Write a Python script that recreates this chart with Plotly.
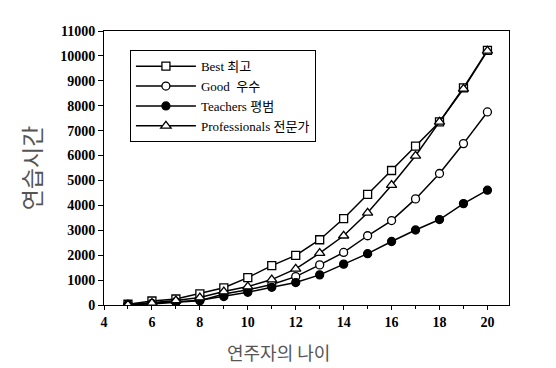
import plotly.graph_objects as go

ages = list(range(5, 21))
best = [30, 160, 240, 450, 690, 1100, 1580, 1990, 2620, 3470, 4440, 5400, 6380, 7350, 8720, 10220]
good = [20, 40, 110, 170, 440, 610, 820, 1140, 1610, 2110, 2780, 3390, 4260, 5280, 6480, 7750]
teachers = [10, 60, 130, 190, 340, 510, 710, 900, 1210, 1640, 2060, 2550, 3010, 3430, 4070, 4610]
prof = [10, 80, 180, 300, 540, 740, 1020, 1450, 2080, 2780, 3700, 4810, 5990, 7350, 8680, 10200]

names = ["Best 최고", "Good  우수", "Teachers 평범", "Professionals 전문가"]
series = [best, good, teachers, prof]
symbols = ["square", "circle", "circle", "triangle-up"]
fills = ["white", "white", "black", "white"]

fig = go.Figure()
for nm, ys, sym, fc in zip(names, series, symbols, fills):
    fig.add_trace(go.Scatter(
        x=ages, y=ys, name=nm, mode="lines+markers",
        line=dict(color="black", width=1.5),
        marker=dict(symbol=sym, size=8 if sym != "triangle-up" else 9, color=fc,
                    line=dict(color="black", width=1.3)),
    ))

serif = "Liberation Serif, Noto Sans CJK KR"
fig.update_layout(
    width=556, height=368,
    margin=dict(l=104, r=47, t=31, b=63),
    paper_bgcolor="white", plot_bgcolor="white",
    font=dict(family=serif, color="black", size=13),
    showlegend=True,
    legend=dict(
        x=0.064, y=0.93, xanchor="left", yanchor="top",
        bgcolor="white", bordercolor="black", borderwidth=1,
        font=dict(family=serif, size=13, color="black"),
        itemwidth=60, tracegroupgap=0,
    ),
    xaxis=dict(
        range=[4, 20.9], tickvals=[4, 6, 8, 10, 12, 14, 16, 18, 20],
        ticks="outside", ticklen=4, tickcolor="black",
        minor=dict(dtick=1, tick0=4, ticks="outside", ticklen=3, tickcolor="black"),
        showline=True, linecolor="black", linewidth=1, mirror=True,
        showgrid=False, zeroline=False,
        tickfont=dict(family="Liberation Serif", size=14, color="black", weight="bold"),
    ),
    yaxis=dict(
        range=[0, 11000], dtick=1000, tickformat="d",
        ticks="outside", ticklen=5, tickcolor="black",
        showline=True, linecolor="black", linewidth=1, mirror=True,
        showgrid=False, zeroline=False,
        tickfont=dict(family="Liberation Serif", size=14, color="black", weight="bold"),
        title=dict(text="연습시간", font=dict(family="Noto Sans CJK KR", size=23, color="#555"), standoff=12),
    ),
    annotations=[dict(
        text="연주자의 나이", xref="paper", yref="paper",
        x=(278 - 104) / 405, y=-(352 - 305) / 274, xanchor="center", yanchor="middle",
        showarrow=False, font=dict(family="Noto Sans CJK KR", size=18, color="#555"),
    )],
)

fig.write_html("out.html")
